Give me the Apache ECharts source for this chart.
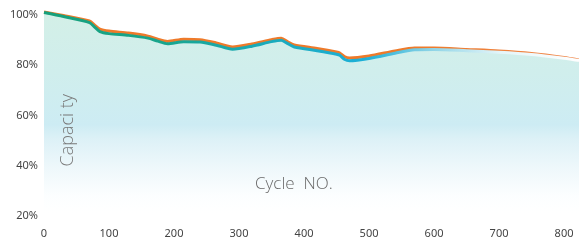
<!DOCTYPE html>
<html>
<head>
<meta charset="utf-8">
<script src="https://cdn.jsdelivr.net/npm/echarts@6/dist/echarts.min.js"></script>
<style>
  html, body { margin: 0; padding: 0; background: #fff; }
  #chart { width: 579px; height: 244px; }
</style>
</head>
<body>
<div id="chart"></div>
<script>
// 容量衰减曲线
var cycles   = [0, 30, 70, 78, 86, 100, 130, 160, 175, 190, 215, 240, 265, 290, 320, 350, 365, 375, 385, 420, 450, 455, 462, 470, 500, 540, 570, 600, 650, 700, 750, 800, 823];
var orangeCap = [101.2, 99.8, 97.6, 96.0, 94.4, 93.6, 92.8, 91.6, 90.4, 89.5, 90.4, 90.2, 88.9, 87.3, 88.5, 90.2, 90.8, 89.3, 88.1, 86.7, 85.3, 84.9, 83.5, 82.9, 83.7, 85.7, 86.9, 86.9, 86.3, 85.7, 84.7, 83.1, 82.1];
var blueCap   = [101.0, 99.4, 97.0, 95.2, 93.4, 92.6, 91.9, 90.8, 89.6, 88.6, 89.4, 89.3, 88.0, 86.4, 87.6, 89.4, 90.0, 88.6, 87.3, 85.8, 84.4, 84.0, 82.4, 81.8, 82.7, 84.8, 86.2, 86.3, 85.8, 85.2, 84.3, 82.8, 81.9];
var yTicks = [20, 40, 60, 80, 100];

function pairs(xs, ys) {
  return xs.map(function (x, i) { return [x, ys[i]]; });
}

var chart = echarts.init(document.getElementById('chart'));
var option = {
  animation: false,
  grid: { left: 44, right: 0, top: 10, bottom: 28 },
  xAxis: {
    type: 'value',
    min: 0,
    max: 823,
    interval: 100,
    axisLine: { show: false },
    axisTick: { show: false },
    splitLine: { show: false },
    axisLabel: {
      margin: 12,
      fontSize: 11,
      color: '#444',
      fontFamily: 'Noto Sans',
      showMaxLabel: false
    }
  },
  yAxis: {
    type: 'value',
    min: 20,
    max: 102,
    interval: 20,
    axisLine: { show: false },
    axisTick: { show: false },
    splitLine: { show: false },
    axisLabel: {
      margin: 6,
      fontSize: 11,
      color: '#444',
      fontFamily: 'Noto Sans',
      formatter: function (v) {
        return yTicks.indexOf(v) >= 0 ? v + '%' : '';
      }
    }
  },
  graphic: [
    {
      type: 'text',
      left: 59,
      top: 94,
      z: 100,
      rotation: Math.PI / 2,
      style: {
        text: 'Capaci ty',
        fill: '#7a7a7a',
        font: '300 18px "Open Sans"'
      }
    },
    {
      type: 'text',
      left: 255,
      top: 176,
      z: 100,
      style: {
        text: 'Cycle  NO.',
        fill: '#6a6a6a',
        font: '300 17px "Open Sans"'
      }
    }
  ],
  series: [
    {
      name: 'orange',
      type: 'line',
      data: pairs(cycles, orangeCap),
      smooth: 0.25,
      symbol: 'none',
      lineStyle: {
        width: 3,
        color: new echarts.graphic.LinearGradient(0, 0, 1, 0, [
          { offset: 0, color: '#EE7A2A' },
          { offset: 0.7, color: '#EE7A2A' },
          { offset: 1, color: '#F08A50' }
        ])
      },
      z: 2
    },
    {
      name: 'blue',
      type: 'line',
      data: pairs(cycles, blueCap),
      smooth: 0.25,
      symbol: 'none',
      lineStyle: {
        width: 3,
        color: new echarts.graphic.LinearGradient(0, 0, 1, 0, [
          { offset: 0, color: '#17A07A' },
          { offset: 0.22, color: '#18A58C' },
          { offset: 0.4, color: '#1AAAB8' },
          { offset: 0.6, color: '#1DB0D8' },
          { offset: 0.72, color: '#8CD3E6' },
          { offset: 0.85, color: '#E4F5F9' },
          { offset: 1, color: '#FFFFFF' }
        ])
      },
      areaStyle: {
        color: new echarts.graphic.LinearGradient(0, 0, 0, 1, [
          { offset: 0, color: '#C0E8DC' },
          { offset: 0.3, color: '#BBE6E4' },
          { offset: 0.55, color: '#B7E3EE' },
          { offset: 0.62, color: '#CDEAF2' },
          { offset: 0.75, color: '#E4F3F8' },
          { offset: 0.9, color: '#FAFDFE' },
          { offset: 1, color: '#FFFFFF' }
        ])
      },
      z: 3
    }
  ]
};
chart.setOption(option);
</script>
</body>
</html>
